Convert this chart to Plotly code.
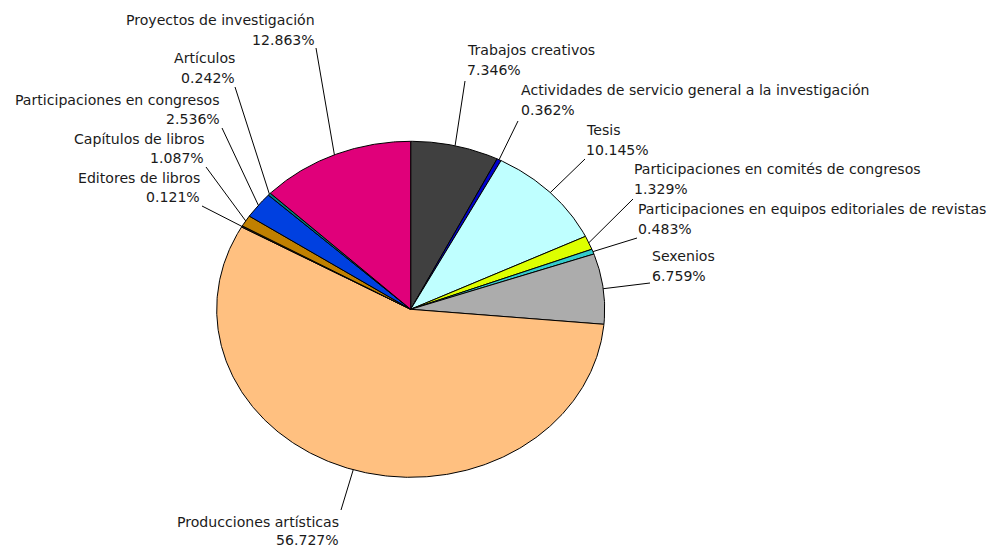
import numpy as np
import plotly.graph_objects as go

categories = [
    "Trabajos creativos",
    "Actividades de servicio general a la investigación",
    "Tesis",
    "Participaciones en comités de congresos",
    "Participaciones en equipos editoriales de revistas",
    "Sexenios",
    "Producciones artísticas",
    "Editores de libros",
    "Capítulos de libros",
    "Participaciones en congresos",
    "Artículos",
    "Proyectos de investigación",
]
values = [7.346, 0.362, 10.145, 1.329, 0.483, 6.759, 56.727, 0.121, 1.087, 2.536, 0.242, 12.863]
colors = ["#404040", "#0000CC", "#BFFFFF", "#DDFF00", "#33CCCC", "#ACACAC",
          "#FFC080", "#3A2A10", "#C08000", "#0040E0", "#008080", "#E0007A"]

# layout (page pixel) settings
W, H = 997, 549
OFF = 8                    # default page body margin
CX, CY = 410.7, 309.3      # pie centre in page pixels
RX, RY = 194.0, 168.0      # ellipse radii in pixels

# label placement: (anchor side, x px, line1 y px, line2 y px, leader end x px, leader end y px)
label_pos = [
    ("left", 466, 50, 70, 465, 81),
    ("left", 520, 90, 110, 518, 121),
    ("left", 585, 130, 150, 585, 159),
    ("left", 633, 169, 189, 633, 199),
    ("left", 637, 209, 229, 637, 238),
    ("left", 651, 256, 276, 650, 283),
    ("right", 340, 522, 540, 341, 510),
    ("right", 201, 178, 197, 202, 206),
    ("right", 205, 139, 158, 206, 167),
    ("right", 221, 100, 119, 222, 128),
    ("right", 236, 58, 78, 235, 87),
    ("right", 316, 20, 40, 316, 48),
]

fcx, fcy = CX - OFF, CY - OFF
xr = [-fcx / RX, (W - fcx) / RX]
yr = [-(H - fcy) / RY, fcy / RY]


def px2d(px, py):
    return (px - CX) / RX, (CY - py) / RY


fig = go.Figure()
total = sum(values)
cum = 0.0
mids = []
for name, v, c in zip(categories, values, colors):
    a0 = np.pi / 2 - 2 * np.pi * cum / total
    a1 = np.pi / 2 - 2 * np.pi * (cum + v) / total
    n = max(3, int(abs(a1 - a0) / (2 * np.pi) * 720))
    t = np.linspace(a0, a1, n)
    xs = np.concatenate([[0], np.cos(t), [0]])
    ys = np.concatenate([[0], np.sin(t), [0]])
    fig.add_trace(go.Scatter(x=xs, y=ys, mode="lines", fill="toself", fillcolor=c,
                             line=dict(color="black", width=1), name=name,
                             hoverinfo="name", showlegend=False))
    mids.append((a0 + a1) / 2)
    cum += v

font = dict(family="DejaVu Sans", size=14.1, color="#1a1a1a")
for name, v, am, lp in zip(categories, values, mids, label_pos):
    side, lx, y1, y2, ex, ey = lp
    exd, eyd = px2d(ex, ey)
    fig.add_trace(go.Scatter(x=[np.cos(am), exd], y=[np.sin(am), eyd], mode="lines",
                             line=dict(color="black", width=1), hoverinfo="skip",
                             showlegend=False))
    for txt, yy in ((name, y1), (f"{v:.3f}%", y2)):
        xd, yd = px2d(lx, yy)
        fig.add_annotation(x=xd, y=yd, text=txt, showarrow=False, xanchor=side,
                           yanchor="middle", font=font, borderpad=0)

fig.update_layout(
    width=W, height=H, margin=dict(l=0, r=0, t=0, b=0),
    paper_bgcolor="white", plot_bgcolor="white",
    xaxis=dict(range=xr, visible=False, fixedrange=True),
    yaxis=dict(range=yr, visible=False, fixedrange=True),
    showlegend=False,
)
fig.write_html("out.html")
